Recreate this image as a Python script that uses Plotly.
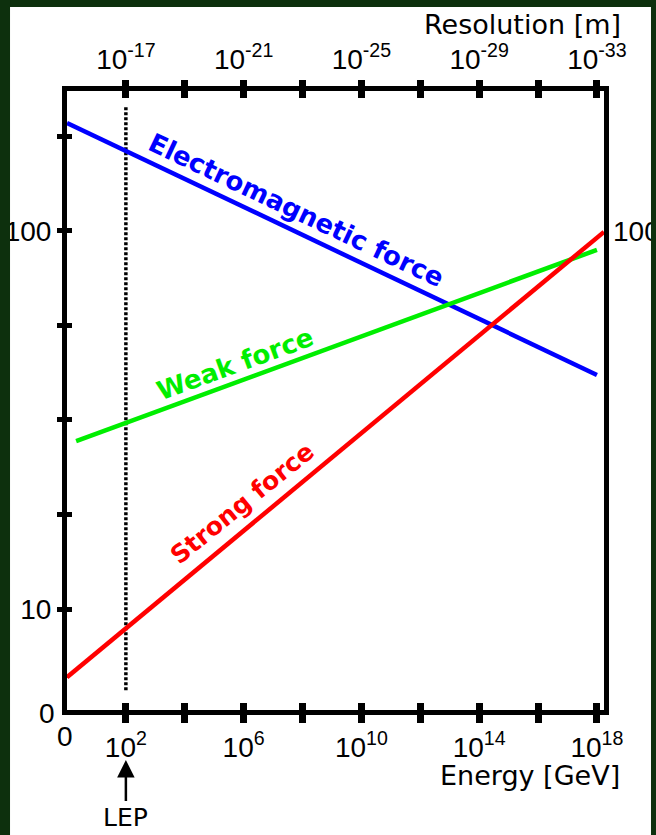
import plotly.graph_objects as go

# ---------------- data ----------------
em_energy = [1e0, 1e18]
em_coupling = [193, 41.6]

weak_energy = [10 ** 0.31, 1e18]
weak_coupling = [27.8, 89.1]

strong_energy = [1e0, 10 ** 18.24]
strong_coupling = [6.6, 99.4]

lep_energy = [100, 100]
lep_coupling = [6.1, 214]

energy_ticks = [1e2, 1e4, 1e6, 1e8, 1e10, 1e12, 1e14, 1e16, 1e18]
energy_ticktext = ["10<sup>2</sup>", "", "10<sup>6</sup>", "", "10<sup>10</sup>", "",
                   "10<sup>14</sup>", "", "10<sup>18</sup>"]
resolution_ticktext = ["10<sup>-17</sup>", "", "10<sup>-21</sup>", "", "10<sup>-25</sup>", "",
                       "10<sup>-29</sup>", "", "10<sup>-33</sup>"]
coupling_ticks = [10, 10 ** 1.25, 10 ** 1.5, 10 ** 1.75, 100, 10 ** 2.25]
coupling_ticktext = ["10", "", "", "", "100", ""]

x_range = [0, 18.24]
y_range = [0.733, 2.370]

BLUE = "#0000ff"
GREEN = "#00ee00"
RED = "#ff0000"
BG = "#0d300d"
TICKFONT = dict(family="Liberation Sans", size=28, color="black")
TITLEFONT = dict(family="DejaVu Sans", size=27, color="black")
LABELFONT = "DejaVu Sans"

fig = go.Figure()

fig.add_trace(go.Scatter(x=lep_energy, y=lep_coupling, mode="lines",
                         line=dict(color="black", width=3.5, dash="3px,2px"),
                         hoverinfo="skip", showlegend=False))
fig.add_trace(go.Scatter(x=em_energy, y=em_coupling, mode="lines",
                         line=dict(color=BLUE, width=4.5), showlegend=False))
fig.add_trace(go.Scatter(x=weak_energy, y=weak_coupling, mode="lines",
                         line=dict(color=GREEN, width=4.5), showlegend=False))
fig.add_trace(go.Scatter(x=strong_energy, y=strong_coupling, mode="lines",
                         line=dict(color=RED, width=4.5), showlegend=False))
# invisible traces to anchor overlay axes
for xa, ya in [("x2", "y"), ("x3", "y3"), ("x", "y2")]:
    fig.add_trace(go.Scatter(x=em_energy, y=em_coupling, xaxis=xa, yaxis=ya, mode="lines",
                             line=dict(color="rgba(0,0,0,0)", width=0),
                             hoverinfo="skip", showlegend=False))

common_x = dict(type="log", range=x_range, showgrid=False, zeroline=False,
                tickvals=energy_ticks, tickcolor="black", tickwidth=7,
                tickfont=TICKFONT, automargin=False)
common_y = dict(type="log", range=y_range, showgrid=False, zeroline=False,
                tickvals=coupling_ticks, tickcolor="black", tickwidth=5,
                tickfont=TICKFONT, automargin=False)

fig.update_layout(
    width=656, height=835, autosize=False,
    margin=dict(l=67, r=52, t=91, b=125, autoexpand=False),
    paper_bgcolor="white", plot_bgcolor="white",
    xaxis=dict(**common_x, side="bottom", ticks="outside", ticklen=8,
               ticktext=energy_ticktext, showline=True, linewidth=5,
               linecolor="black", mirror=True, ticklabelstandoff=0),
    xaxis2=dict(**common_x, side="top", overlaying="x", ticks="outside", ticklen=10,
                ticktext=resolution_ticktext, showline=False, anchor="y"),
    xaxis3=dict(**common_x, side="bottom", overlaying="x", ticks="inside", ticklen=7,
                showticklabels=False, showline=True, linewidth=5, linecolor="black",
                mirror="allticks", anchor="y3"),
    yaxis=dict(**common_y, side="left", ticks="outside", ticklen=5,
               ticktext=coupling_ticktext, showline=True, linewidth=5,
               linecolor="black", mirror=True),
    yaxis3=dict(**common_y, side="left", overlaying="y", ticks="inside", ticklen=5,
                showticklabels=False, showline=False, anchor="x3"),
    yaxis2=dict(type="log", range=y_range, side="right", overlaying="y",
                showgrid=False, zeroline=False, showline=False, ticks="",
                tickvals=[100], ticktext=["100"], tickfont=TICKFONT,
                ticklabelstandoff=8, automargin=False),
)

annotations = [
    dict(text="Electromagnetic force", x=7.78, y=2.056, xref="x", yref="y",
         textangle=25.4, showarrow=False,
         font=dict(family=LABELFONT, size=26, color=BLUE, weight="bold")),
    dict(text="Weak force", x=5.71, y=1.648, xref="x", yref="y",
         textangle=-20, showarrow=False,
         font=dict(family=LABELFONT, size=26, color=GREEN, weight="bold")),
    dict(text="Strong force", x=5.94, y=1.280, xref="x", yref="y",
         textangle=-39, showarrow=False,
         font=dict(family=LABELFONT, size=25, color=RED, weight="bold")),
    dict(text="0", x=0, y=0, xref="paper", yref="paper", xanchor="right",
         yanchor="middle", xshift=-10, yshift=-3, showarrow=False, font=TICKFONT),
    dict(text="0", x=0, y=0, xref="paper", yref="paper", xanchor="center",
         yanchor="top", xshift=-2, yshift=-9, showarrow=False, font=TICKFONT),
    dict(text="Energy [GeV]", x=1.0335, y=-0.106, xref="paper", yref="paper",
         xanchor="right", yanchor="middle", showarrow=False, font=TITLEFONT),
    dict(text="Resolution [m]", x=1.035, y=1.108, xref="paper", yref="paper",
         xanchor="right", yanchor="middle", showarrow=False, font=TITLEFONT),
    dict(text="LEP", x=2, y=-0.0808, xref="x", yref="paper", showarrow=True,
         ax=0, ay=57, arrowhead=2, arrowsize=1.4, arrowwidth=2.5, arrowcolor="black",
         font=dict(family="DejaVu Sans", size=25, color="black")),
]
fig.update_layout(annotations=annotations)

# dark border of the page
fig.update_layout(shapes=[
    dict(type="rect", xref="paper", yref="paper", x0=-0.2, x1=1.2, y0=1.1357, y1=1.2,
         fillcolor=BG, line=dict(width=0), layer="above"),
    dict(type="rect", xref="paper", yref="paper", x0=-0.2, x1=-0.1061, y0=-0.3, y1=1.2,
         fillcolor=BG, line=dict(width=0), layer="above"),
    dict(type="rect", xref="paper", yref="paper", x0=1.0875, x1=1.2, y0=-0.3, y1=1.2,
         fillcolor=BG, line=dict(width=0), layer="above"),
])

post = ("document.documentElement.style.overflow='hidden';"
        "document.body.style.overflow='hidden';"
        "document.body.style.margin='0';"
        "document.body.style.padding='0';"
        "document.body.style.background='%s';" % BG)

fig.write_html("out.html", config={"displayModeBar": False, "responsive": False},
               post_script=post)
